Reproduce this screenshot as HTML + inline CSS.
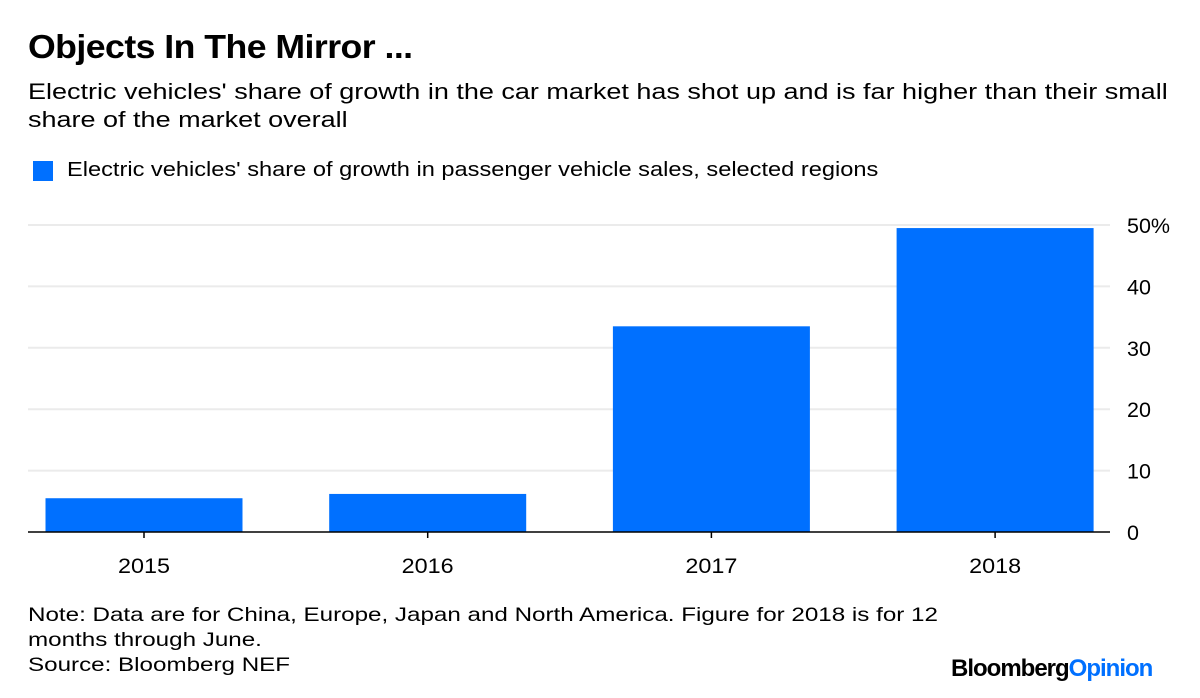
<!DOCTYPE html>
<html><head><meta charset="utf-8"><style>
body{margin:0;width:1200px;height:698px;background:#fff;font-family:"Liberation Sans",sans-serif;position:relative;overflow:hidden;color:#000}
.t{position:absolute;white-space:nowrap;transform-origin:0 0}
</style></head><body>
<div class="t" style="left:28px;top:28px;font-size:33px;font-weight:bold;letter-spacing:-0.5px;transform:scaleX(1.08)">Objects In The Mirror ...</div>
<div class="t" style="left:28px;top:78px;font-size:22.5px;line-height:28px;transform:scaleX(1.2)">Electric vehicles' share of growth in the car market has shot up and is far higher than their small<br>share of the market overall</div>
<div style="position:absolute;left:33px;top:161px;width:20px;height:20px;background:#0070ff"></div>
<div class="t" style="left:67px;top:158px;font-size:20px;line-height:24px;transform:scaleX(1.18)">Electric vehicles' share of growth in passenger vehicle sales, selected regions</div>
<svg id="chart" width="1200" height="698" style="position:absolute;left:0;top:0"></svg>
<div class="t" style="left:28px;top:603px;font-size:19.5px;line-height:25px;transform:scaleX(1.24)">Note: Data are for China, Europe, Japan and North America. Figure for 2018 is for 12<br>months through June.<br>Source: Bloomberg NEF</div>
<div class="t" style="left:951px;top:655px;font-size:24px;font-weight:bold;letter-spacing:-1px">Bloomberg<span style="color:#0070ff">Opinion</span></div>
<script>
const categories=["2015","2016","2017","2018"];
const values=[5.5,6.2,33.5,49.5];
const ticks=[0,10,20,30,40,50];
const tickLabels=["0","10","20","30","40","50%"];
const NS="http://www.w3.org/2000/svg";
const svg=document.getElementById('chart');
const y0=532,y50=225,left=28,right=1110;
function y(v){return y0-(v/50)*(y0-y50);}
function xc(i){return 144+283.7*i;}
function mk(t,a){const e=document.createElementNS(NS,t);for(const k in a)e.setAttribute(k,a[k]);svg.appendChild(e);return e;}
ticks.forEach((t,i)=>{
  if(t>0){const g=mk('line',{x1:left,x2:right,y1:y(t),y2:y(t),stroke:'#ebebeb','stroke-width':2});
  
  }
  const l=mk('text',{x:1127,y:y(t)+8,'font-size':21.5,'font-family':'Liberation Sans, sans-serif'});
  l.textContent=tickLabels[i];
  
  
});
categories.forEach((c,i)=>{
  const w=197;
  const b=mk('rect',{x:xc(i)-w/2,y:y(values[i]),width:w,height:y0-y(values[i]),fill:'#0070ff'});
  
  
  const tk=mk('line',{x1:xc(i),x2:xc(i),y1:y0,y2:y0+6,stroke:'#000','stroke-width':1.5});
  
  
  const t=mk('text',{x:xc(i)-26,y:573,textLength:52,lengthAdjust:'spacingAndGlyphs','font-size':21.5,'font-family':'Liberation Sans, sans-serif'});
  t.textContent=c;
  
  
});
const ax=mk('line',{x1:left,x2:right,y1:y0,y2:y0,stroke:'#000','stroke-width':1.5});


</script>
</body></html>
